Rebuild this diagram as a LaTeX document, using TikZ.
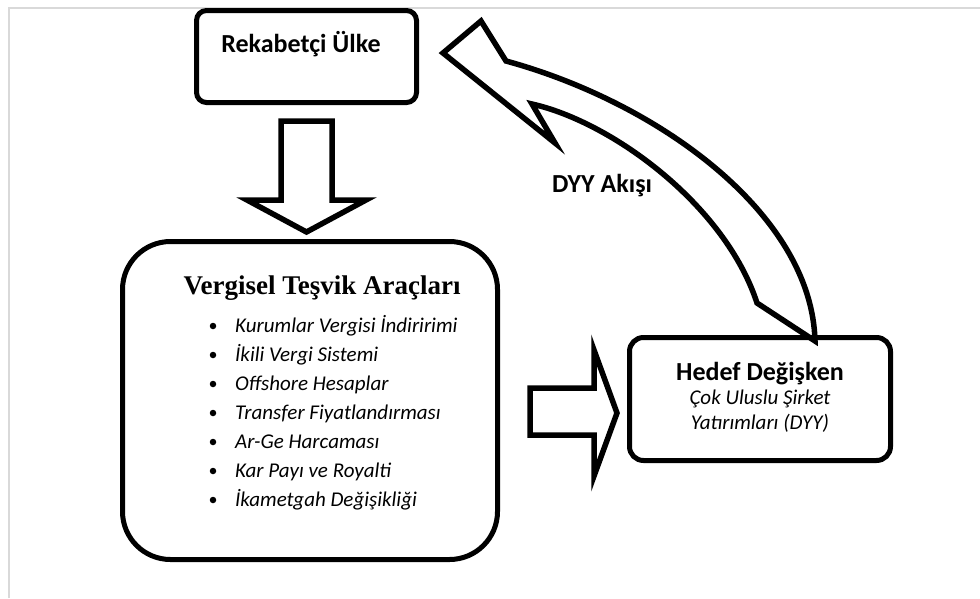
\documentclass[tikz,border=0pt]{standalone}
\usepackage{fontspec}
\setmainfont{Carlito}
\newfontfamily\timesf{Liberation Serif}
\begin{document}
\begin{tikzpicture}[x=1pt,y=-1pt,
  box/.style={draw=black, line width=5pt, rectangle, inner sep=0pt, fill=none},
  blockarrow/.style={draw=black, line width=5.5pt, fill=white, line join=miter, miter limit=10},
  lbl/.style={font=\fontsize{26}{30}\selectfont\bfseries, inner sep=0pt, anchor=base},
  sublbl/.style={font=\fontsize{21}{25}\selectfont\itshape, inner sep=0pt, anchor=base},
  itemtxt/.style={font=\fontsize{21}{25}\selectfont\itshape, inner sep=0pt, anchor=base west},
  dotmark/.style={circle, fill=black, inner sep=0pt, minimum size=6.5pt}]
\useasboundingbox (0,0) rectangle (980,598);
\fill[white] (0,0) rectangle (980,598);
\draw[line width=2pt, color=black!15] (9,598) -- (9,8) -- (980,8);

% block arrows
\draw[blockarrow] (281,121) -- (332,121) -- (332,200) -- (366,200) -- (306.5,232) -- (247,200) -- (281,200) -- cycle;
\draw[blockarrow] (530,388) -- (594,388) -- (594,350) -- (617,413) -- (594,476) -- (594,435) -- (530,435) -- cycle;
\draw[blockarrow] (443,53) -- (481,21) -- (506,61)
  .. controls (660,103) and (812,215) .. (815,341)
  -- (757,303)
  .. controls (725,205) and (612,122) .. (532,104)
  -- (555,143) -- cycle;

% boxes
\node[box, rounded corners=10pt, minimum width=220pt, minimum height=92pt] (rek) at (306.5,56.5) {};
\node[box, rounded corners=48pt, minimum width=375pt, minimum height=318pt] (verg) at (310,400.5) {};
\node[box, rounded corners=14pt, minimum width=261pt, minimum height=123pt] (hedef) at (760,399) {};

% texts
\node[lbl] (rektxt) at (301,52) {Rekabetçi Ülke};
\node[lbl] (akis) at (602,192) {DYY Akışı};
\node[font=\timesf\bfseries\fontsize{27}{32}\selectfont, inner sep=0pt, anchor=base] (vtitle) at (322,294) {Vergisel Teşvik Araçları};
\foreach \t [count=\i from 0] in {Kurumlar Vergisi İndiririmi, İkili Vergi Sistemi, Offshore Hesaplar, Transfer Fiyatlandırması, Ar-Ge Harcaması, Kar Payı ve Royalti, İkametgah Değişikliği}{
  \node[itemtxt] (item\i) at (235,{332+29*\i}) {\t};
  \node[dotmark] (dot\i) at (213,{326+29*\i}) {};
}
\node[lbl] (htitle) at (760,380) {Hedef Değişken};
\node[sublbl] (hsub1) at (760,404) {Çok Uluslu Şirket};
\node[sublbl] (hsub2) at (760,429) {Yatırımları (DYY)};
\end{tikzpicture}
\end{document}
